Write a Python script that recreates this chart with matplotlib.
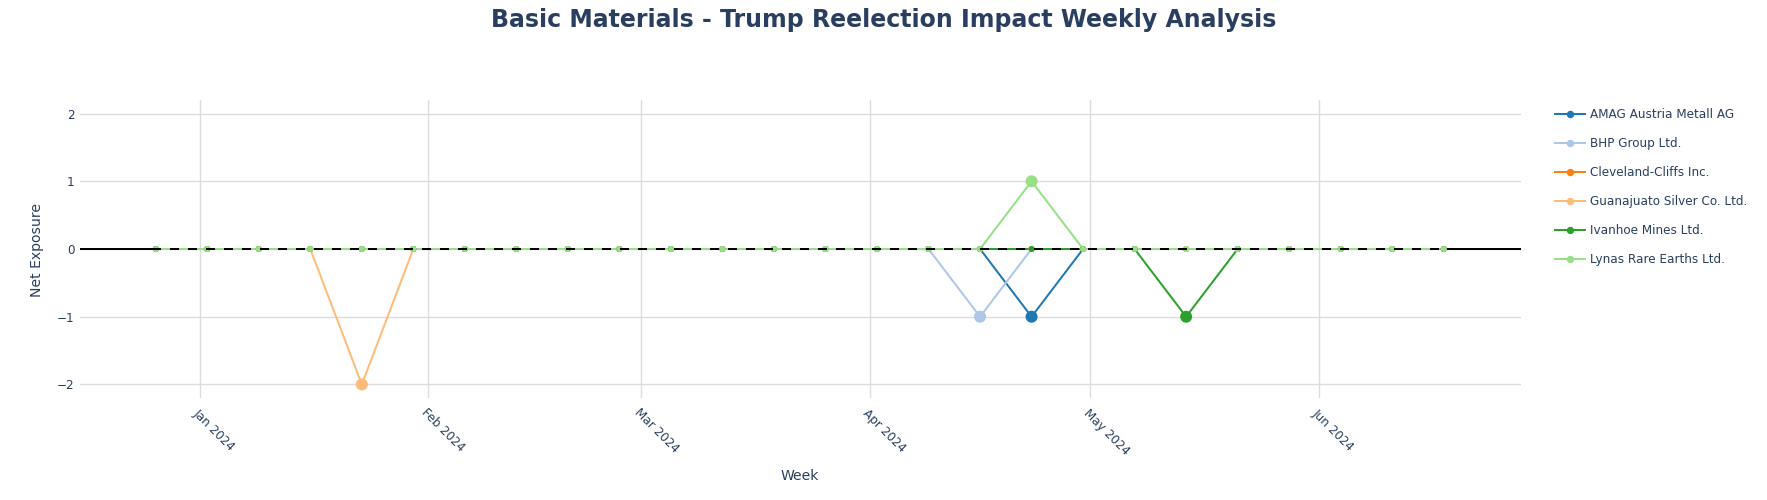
import matplotlib
matplotlib.use("Agg")
import matplotlib.pyplot as plt
import matplotlib.dates as mdates
import pandas as pd
import numpy as np

# ---- data ----
weeks = pd.date_range("2023-12-26", periods=26, freq="7D")
companies = ["AMAG Austria Metall AG", "BHP Group Ltd.", "Cleveland-Cliffs Inc.",
             "Guanajuato Silver Co. Ltd.", "Ivanhoe Mines Ltd.", "Lynas Rare Earths Ltd."]
amag = [0, 0, 0, 0, 0, 0, 0, 0, 0, 0, 0, 0, 0, 0, 0, 0, 0, -1, 0, 0, 0, 0, 0, 0, 0, 0]
bhp = [0, 0, 0, 0, 0, 0, 0, 0, 0, 0, 0, 0, 0, 0, 0, 0, -1, 0, 0, 0, 0, 0, 0, 0, 0, 0]
cleveland = [0, 0, 0, 0, 0, 0, 0, 0, 0, 0, 0, 0, 0, 0, 0, 0, 0, 0, 0, 0, 0, 0, 0, 0, 0, 0]
guanajuato = [0, 0, 0, 0, -2, 0, 0, 0, 0, 0, 0, 0, 0, 0, 0, 0, 0, 0, 0, 0, 0, 0, 0, 0, 0, 0]
ivanhoe = [0, 0, 0, 0, 0, 0, 0, 0, 0, 0, 0, 0, 0, 0, 0, 0, 0, 0, 0, 0, -1, 0, 0, 0, 0, 0]
lynas = [0, 0, 0, 0, 0, 0, 0, 0, 0, 0, 0, 0, 0, 0, 0, 0, 0, 1, 0, 0, 0, 0, 0, 0, 0, 0]
series = [amag, bhp, cleveland, guanajuato, ivanhoe, lynas]
colors = ["#1f77b4", "#aec7e8", "#ff7f0e", "#ffbb78", "#2ca02c", "#98df8a"]
y_ticks = [-2, -1, 0, 1, 2]

TXT = "#2a3f5f"
plt.rcParams["font.family"] = ["DejaVu Sans"]
plt.rcParams["lines.scale_dashes"] = False

W, H = 1767, 500
fig = plt.figure(figsize=(W / 100, H / 100), dpi=100)
L, R, T, B = 80, 1521, 100, 398
ax = fig.add_axes([L / W, 1 - B / H, (R - L) / W, (B - T) / H])

px = 0.72  # points per pixel
ax.axhline(0, color="black", lw=2 * px, zorder=1.5)
for name, vals, c in zip(companies, series, colors):
    v = np.array(vals)
    ax.plot(weeks, v, color=c, lw=2 * px, zorder=2)
    sizes = np.where(v != 0, (12 * px) ** 2, (6 * px) ** 2)
    ax.scatter(weeks, v, s=sizes, color=c, zorder=2.1, linewidths=0)
    ax.plot([], [], color=c, lw=2 * px, marker="o", ms=6 * px, label=name)
ax.axhline(0, color="black", lw=2 * px, ls=(0, (9 * px, 9 * px)), zorder=3)

ax.set_ylim(-2.2, 2.2)
ax.set_yticks(y_ticks)
ax.set_xlim(pd.Timestamp("2023-12-15 17:00"), pd.Timestamp("2024-06-28 12:00"))
ax.xaxis.set_major_locator(mdates.MonthLocator())
ax.xaxis.set_major_formatter(mdates.DateFormatter("%b %Y"))
ax.grid(True, color="#dcdcdc", lw=1)
ax.set_axisbelow(True)
for s in ax.spines.values():
    s.set_visible(False)
ax.tick_params(axis="both", length=0, labelsize=12 * px, labelcolor=TXT)
ax.tick_params(axis="y", pad=4)
ax.tick_params(axis="x", pad=6)
for lab in ax.get_xticklabels():
    lab.set_rotation(-45)
    lab.set_ha("left")
    lab.set_va("top")
    lab.set_rotation_mode("anchor")

fig.text(37 / W, 1 - 250 / H, "Net Exposure", rotation=90, ha="center", va="center",
         fontsize=14 * px, color=TXT)
fig.text(800 / W, 1 - 476 / H, "Week", ha="center", va="center", fontsize=14 * px, color=TXT)
fig.text(0.5, 1 - 20 / H, "Basic Materials - Trump Reelection Impact Weekly Analysis",
         ha="center", va="center", fontsize=17, fontweight="bold", color=TXT)

fig.legend(loc="upper left", bbox_to_anchor=(1555 / W, 1 - 108.5 / H), frameon=False,
           fontsize=12 * px, labelcolor=TXT, handlelength=2.5, handletextpad=0.45,
           labelspacing=1.33, borderpad=0, borderaxespad=0)

fig.savefig("out.png", dpi=100)
